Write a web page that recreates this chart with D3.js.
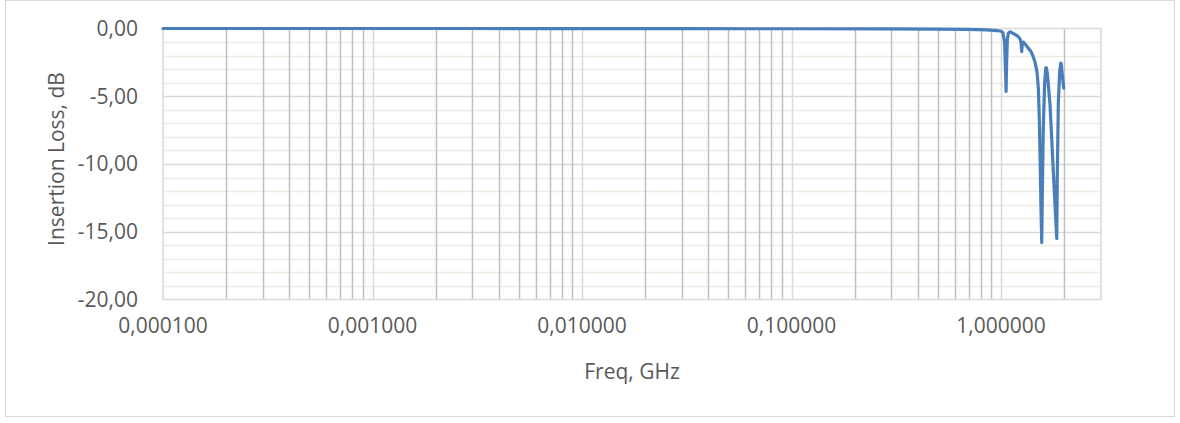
<!DOCTYPE html>
<html>
<head>
<meta charset="utf-8">
<script src="https://cdn.jsdelivr.net/npm/d3@7"></script>
<style>
  html, body { margin: 0; padding: 0; background: #ffffff; }
  svg { display: block; }
  text { font-family: "Open Sans", "Noto Sans", sans-serif; fill: #595959; }
</style>
</head>
<body>
<svg id="chart" width="1180" height="423"></svg>
<script>
// ---- data ----
const freqGHz = [
  0.0001, 0.0003, 0.001, 0.003, 0.01, 0.03, 0.1, 0.3, 0.5, 0.7, 0.85, 0.95, 1.0,
  1.02, 1.04, 1.05, 1.057, 1.063, 1.072, 1.084, 1.10, 1.125, 1.17, 1.209, 1.235, 1.247, 1.255, 1.262,
  1.278, 1.31, 1.35, 1.39, 1.426, 1.453, 1.485, 1.507, 1.522, 1.535, 1.55, 1.564, 1.575, 1.59, 1.615,
  1.635, 1.645, 1.663, 1.713, 1.777, 1.83, 1.845, 1.855, 1.877, 1.905, 1.928, 1.938, 1.96, 1.99
];
const insertionLossDb = [
  0.0, 0.0, 0.0, 0.0, -0.01, -0.01, -0.02, -0.03, -0.04, -0.06, -0.1, -0.15, -0.2,
  -0.3, -1.0, -3.0, -4.65, -2.5, -0.8, -0.35, -0.25, -0.3, -0.45, -0.6, -0.8, -1.1, -1.7, -1.2,
  -1.0, -1.2, -1.45, -1.7, -2.1, -2.5, -3.2, -4.4, -6.5, -9.3, -13.0, -15.8, -12.0, -7.5, -4.0,
  -2.9, -2.9, -3.3, -5.6, -10.6, -14.5, -15.5, -11.0, -5.5, -3.2, -2.55, -2.6, -3.4, -4.4
];
const xTickValues = [0.0001, 0.001, 0.01, 0.1, 1];
const xTickLabels = ["0,000100", "0,001000", "0,010000", "0,100000", "1,000000"];
const yTickValues = [0, -5, -10, -15, -20];
const yTickLabels = ["0,00", "-5,00", "-10,00", "-15,00", "-20,00"];
const minorMultipliers = [2, 3, 4, 5, 6, 7, 8, 9];
const xDomain = [0.0001, 3];
const yDomain = [-20, 0];
const xTitle = "Freq, GHz";
const yTitle = "Insertion Loss, dB";

// ---- layout ----
const plot = { left: 163, right: 1101, top: 28.5, bottom: 299.5 };
const svg = d3.select("#chart");

// outer chart border
svg.append("rect")
  .attr("x", 5.5).attr("y", 0.5).attr("width", 1169).attr("height", 416)
  .attr("fill", "#ffffff").attr("stroke", "#d9d9d9").attr("stroke-width", 1);

const x = d3.scaleLog().domain(xDomain).range([plot.left, plot.right]);
const y = d3.scaleLinear().domain(yDomain).range([plot.bottom, plot.top]);

const g = svg.append("g");

// minor horizontal gridlines (every 1 dB)
const yMinor = d3.range(-19, 0, 1).filter(v => v % 5 !== 0);
g.selectAll(".hminor").data(yMinor).enter().append("line")
  .attr("x1", plot.left).attr("x2", plot.right)
  .attr("y1", d => Math.round(y(d)) + 0.5).attr("y2", d => Math.round(y(d)) + 0.5)
  .attr("stroke", "#eeece1").attr("stroke-width", 1.5);

// major horizontal gridlines
g.selectAll(".hmajor").data(yTickValues.filter(v => v !== 0 && v !== -20)).enter().append("line")
  .attr("x1", plot.left).attr("x2", plot.right)
  .attr("y1", d => Math.round(y(d)) + 0.5).attr("y2", d => Math.round(y(d)) + 0.5)
  .attr("stroke", "#d9d9d9").attr("stroke-width", 1.5);

// minor vertical gridlines (2..9 within each decade)
const xMinor = [];
xTickValues.forEach(dec => minorMultipliers.forEach(m => {
  const v = dec * m;
  if (v < xDomain[1] - 1e-9) xMinor.push(v);
}));
g.selectAll(".vminor").data(xMinor).enter().append("line")
  .attr("x1", d => Math.round(x(d)) + 0.5).attr("x2", d => Math.round(x(d)) + 0.5)
  .attr("y1", plot.top).attr("y2", plot.bottom)
  .attr("stroke", "#bfbfbf").attr("stroke-width", 1.5);

// major vertical gridlines (decades)
g.selectAll(".vmajor").data(xTickValues.slice(1)).enter().append("line")
  .attr("x1", d => Math.round(x(d)) + 0.5).attr("x2", d => Math.round(x(d)) + 0.5)
  .attr("y1", plot.top).attr("y2", plot.bottom)
  .attr("stroke", "#d9d9d9").attr("stroke-width", 1.5);

// plot area border
g.append("rect")
  .attr("x", plot.left).attr("y", plot.top)
  .attr("width", plot.right - plot.left).attr("height", plot.bottom - plot.top)
  .attr("fill", "none").attr("stroke", "#d9d9d9").attr("stroke-width", 1.5);

// y axis tick labels
svg.append("g").selectAll("text").data(yTickValues).enter().append("text")
  .attr("x", 138).attr("y", d => y(d)).attr("dy", "0.35em")
  .attr("text-anchor", "end").attr("font-size", 21)
  .text((d, i) => yTickLabels[i]);

// x axis tick labels
svg.append("g").selectAll("text").data(xTickValues).enter().append("text")
  .attr("x", d => x(d)).attr("y", 333)
  .attr("text-anchor", "middle").attr("font-size", 21)
  .text((d, i) => xTickLabels[i]);

// axis titles
svg.append("text")
  .attr("x", (plot.left + plot.right) / 2).attr("y", 379)
  .attr("text-anchor", "middle").attr("font-size", 21)
  .text(xTitle);
svg.append("text")
  .attr("transform", `translate(64, 159) rotate(-90)`)
  .attr("text-anchor", "middle").attr("font-size", 21)
  .text(yTitle);

// data line
const line = d3.line()
  .x((d, i) => x(freqGHz[i]))
  .y(d => y(d))
  .curve(d3.curveLinear);
svg.append("path")
  .datum(insertionLossDb)
  .attr("d", line)
  .attr("fill", "none")
  .attr("stroke", "#4a7ebb")
  .attr("stroke-width", 3.2)
  .attr("stroke-linejoin", "round")
  .attr("stroke-linecap", "round");
</script>
</body>
</html>
